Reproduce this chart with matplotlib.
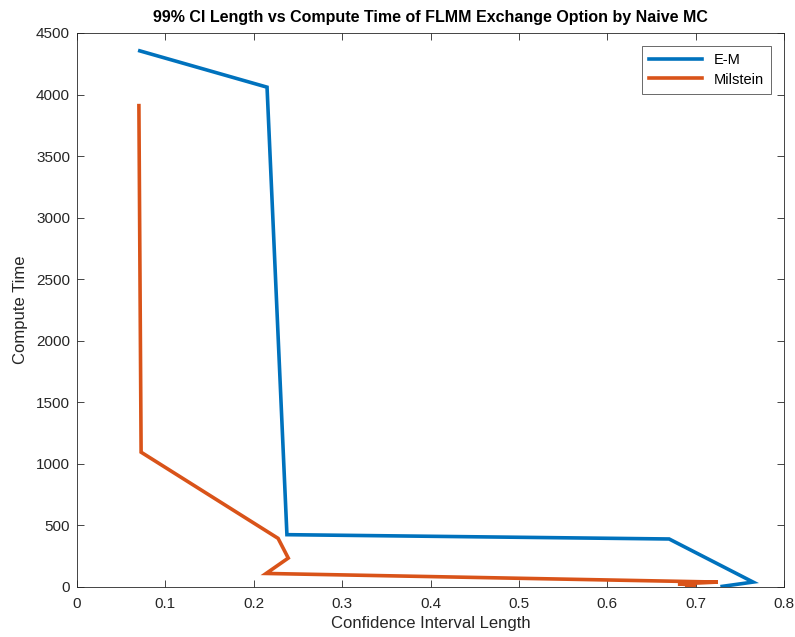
import matplotlib.pyplot as plt

plt.rcParams["font.family"] = ["Liberation Sans", "DejaVu Sans"]

# data
em_ci = [0.071, 0.215, 0.2375, 0.670, 0.765, 0.730]
em_time = [4355, 4060, 425, 390, 40, 5]

mil_ci = [0.070, 0.0725, 0.2275, 0.239, 0.214, 0.725, 0.680, 0.700, 0.690]
mil_time = [3910, 1095, 395, 235, 110, 40, 25, 15, 8]

BLUE = "#0072BD"
ORANGE = "#D95319"
INK = "#262626"

fig = plt.figure(figsize=(7.95, 6.37), dpi=100)
ax = fig.add_axes([0.0969, 0.0785, 0.8893, 0.8697])

ax.plot(em_ci, em_time, color=BLUE, lw=2.6, label="E-M", solid_joinstyle="miter")
ax.plot(mil_ci, mil_time, color=ORANGE, lw=2.6, label="Milstein", solid_joinstyle="miter")

ax.set_xlim(0, 0.8)
ax.set_ylim(0, 4500)
ax.set_xticks([0, 0.1, 0.2, 0.3, 0.4, 0.5, 0.6, 0.7, 0.8])
ax.set_xticklabels(["0", "0.1", "0.2", "0.3", "0.4", "0.5", "0.6", "0.7", "0.8"])
ax.set_yticks(range(0, 4501, 500))

ax.tick_params(direction="in", top=True, right=True, labelsize=11,
               length=5, width=0.6, colors=INK)
ax.tick_params(axis="x", pad=7)
ax.tick_params(axis="y", pad=5)
for s in ax.spines.values():
    s.set_linewidth(0.6)
    s.set_color(INK)

ax.set_xlabel("Confidence Interval Length", fontsize=12, color=INK, labelpad=4)
ax.set_ylabel("Compute Time", fontsize=12, color=INK, labelpad=6)
ax.set_title("99% CI Length vs Compute Time of FLMM Exchange Option by Naive MC",
             fontsize=11.5, fontweight="bold", pad=8)

leg = ax.legend(loc="upper right", fontsize=10.5, frameon=True, fancybox=False,
                edgecolor=INK, borderaxespad=0.9, handlelength=3.6,
                borderpad=0.5, labelspacing=0.35)
leg.get_frame().set_linewidth(0.6)

fig.savefig("out.png", dpi=100, facecolor="white")
